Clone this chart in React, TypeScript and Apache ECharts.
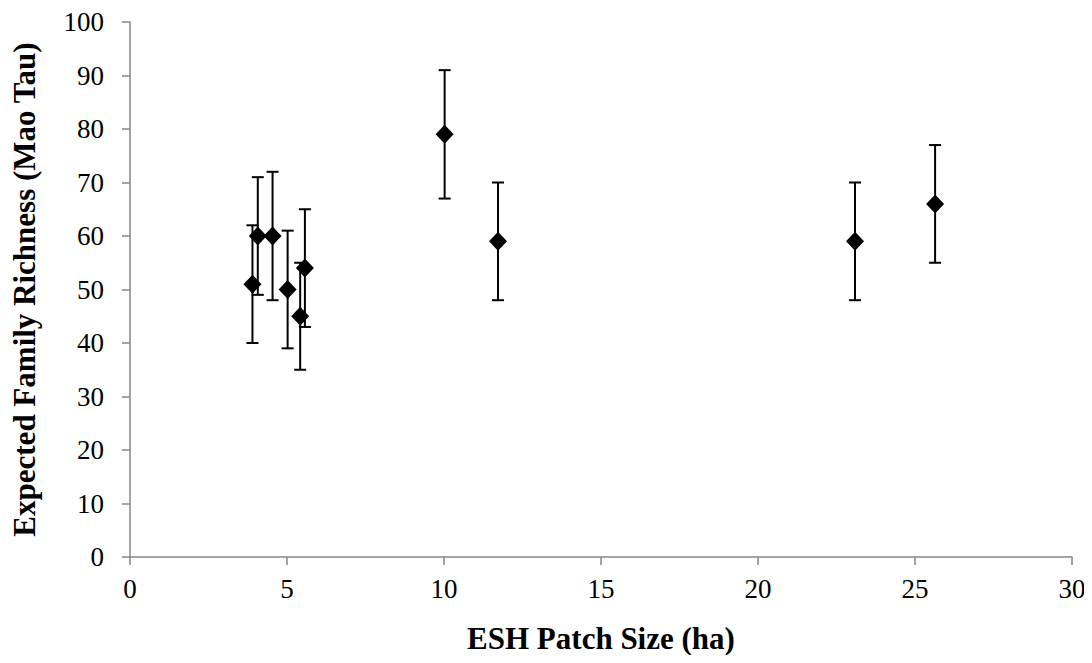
import React, { useEffect, useRef } from "react";
import * as echarts from "echarts";

const patchSize = [3.9, 4.07, 4.54, 5.02, 5.42, 5.57, 10.02, 11.72, 23.09, 25.64];
const richness = [51, 60, 60, 50, 45, 54, 79, 59, 59, 66];
const errLow = [40, 49, 48, 39, 35, 43, 67, 48, 48, 55];
const errHigh = [62, 71, 72, 61, 55, 65, 91, 70, 70, 77];
const xTicks = [0, 5, 10, 15, 20, 25, 30];
const yTicks = [0, 10, 20, 30, 40, 50, 60, 70, 80, 90, 100];

export default function App() {
  const ref = useRef<HTMLDivElement>(null);
  useEffect(() => {
    if (!ref.current) return;
    const chart = echarts.init(ref.current, undefined, { renderer: "svg" });
    const font = "'Liberation Serif', 'Times New Roman', serif";
    const points = patchSize.map((x, i) => [x, richness[i]]);
    const errs = patchSize.map((x, i) => [x, errLow[i], errHigh[i]]);
    chart.setOption({
      animation: false,
      backgroundColor: "#fff",
      grid: { left: 130, right: 20, top: 22, bottom: 106 },
      xAxis: {
        type: "value",
        min: xTicks[0],
        max: xTicks[xTicks.length - 1],
        interval: 5,
        name: "ESH Patch Size (ha)",
        nameLocation: "middle",
        nameGap: 66,
        nameTextStyle: { fontFamily: font, fontSize: 31, fontWeight: "bold", color: "#000" },
        axisLine: { lineStyle: { color: "#868686", width: 1.5 } },
        axisTick: { show: true, length: 8, lineStyle: { color: "#868686", width: 1.5 } },
        axisLabel: { fontFamily: font, fontSize: 27, color: "#000", margin: 18 },
        splitLine: { show: false },
      },
      yAxis: {
        type: "value",
        min: yTicks[0],
        max: yTicks[yTicks.length - 1],
        interval: 10,
        name: "Expected Family Richness (Mao Tau)",
        nameLocation: "middle",
        nameGap: 90,
        nameTextStyle: { fontFamily: font, fontSize: 31, fontWeight: "bold", color: "#000" },
        axisLine: { show: true, lineStyle: { color: "#868686", width: 1.5 } },
        axisTick: { show: true, length: 8, lineStyle: { color: "#868686", width: 1.5 } },
        axisLabel: { fontFamily: font, fontSize: 27, color: "#000", margin: 26 },
        splitLine: { show: false },
      },
      series: [
        {
          type: "custom",
          data: errs,
          z: 1,
          renderItem: (params: any, api: any) => {
            const x = api.value(0);
            const lo = api.coord([x, api.value(1)]);
            const hi = api.coord([x, api.value(2)]);
            const hw = 6;
            const style = { stroke: "#000", lineWidth: 2 };
            return {
              type: "group",
              children: [
                { type: "line", shape: { x1: lo[0], y1: lo[1], x2: hi[0], y2: hi[1] }, style },
                { type: "line", shape: { x1: lo[0] - hw, y1: lo[1], x2: lo[0] + hw, y2: lo[1] }, style },
                { type: "line", shape: { x1: hi[0] - hw, y1: hi[1], x2: hi[0] + hw, y2: hi[1] }, style },
              ],
            };
          },
        },
        {
          type: "scatter",
          data: points,
          symbol: "diamond",
          symbolSize: [18, 19],
          itemStyle: { color: "#000", opacity: 1 },
          z: 3,
        },
      ],
    });
    return () => chart.dispose();
  }, []);
  return <div ref={ref} style={{ width: 1092, height: 663, margin: -8 }} />;
}
